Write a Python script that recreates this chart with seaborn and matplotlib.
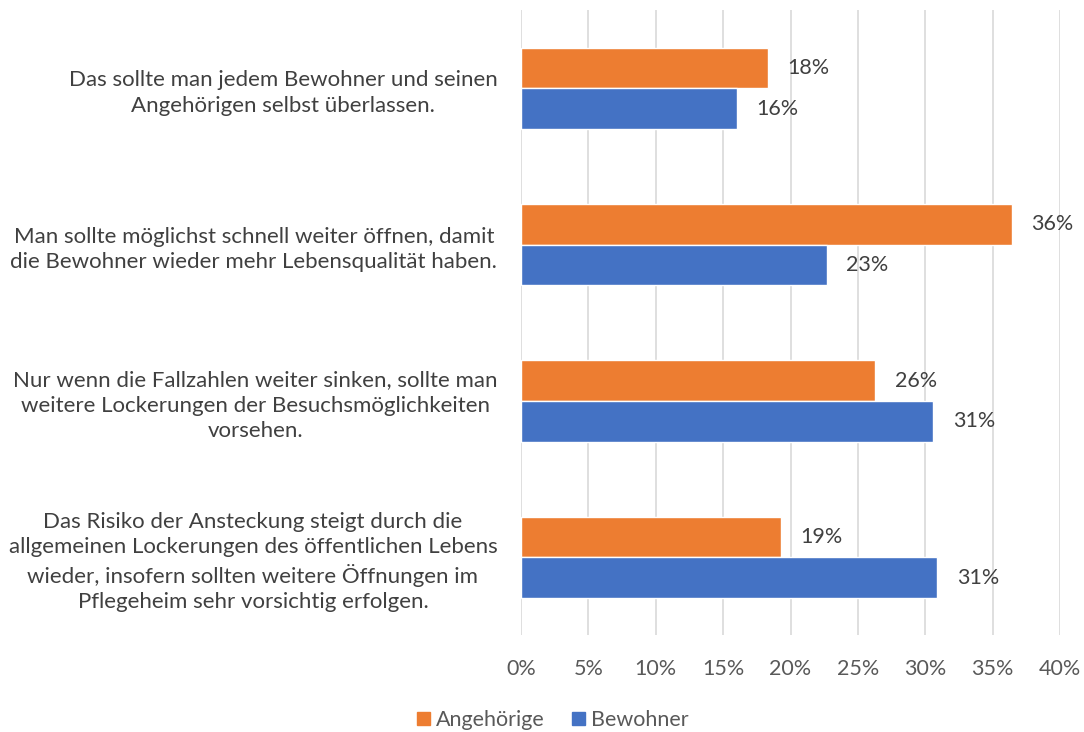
import pandas as pd
import matplotlib.pyplot as plt
import seaborn as sns
from matplotlib.ticker import FuncFormatter

# statements (y categories), top to bottom
statements = [
    "Das sollte man jedem Bewohner und seinen\nAngehörigen selbst überlassen.",
    "Man sollte möglichst schnell weiter öffnen, damit\ndie Bewohner wieder mehr Lebensqualität haben.",
    "Nur wenn die Fallzahlen weiter sinken, sollte man\nweitere Lockerungen der Besuchsmöglichkeiten\nvorsehen.",
    "Das Risiko der Ansteckung steigt durch die\nallgemeinen Lockerungen des öffentlichen Lebens\nwieder, insofern sollten weitere Öffnungen im\nPflegeheim sehr vorsichtig erfolgen.",
]
angehoerige = [18.3, 36.4, 26.3, 19.3]
bewohner = [16.0, 22.7, 30.6, 30.9]
groups = ["Angehörige", "Bewohner"]
colors = ["#ED7D31", "#4472C4"]

df = pd.DataFrame({
    "statement": statements * 2,
    "group": [groups[0]] * 4 + [groups[1]] * 4,
    "value": angehoerige + bewohner,
})

sns.set_theme(style="white")
plt.rcParams["font.family"] = ["Lato", "DejaVu Sans"]
text_col = "#595959"
fs = 15.5

fig, ax = plt.subplots(figsize=(10.84, 7.32), dpi=100)
fig.subplots_adjust(left=0.4806, right=0.978, top=0.986, bottom=0.132)

sns.barplot(data=df, x="value", y="statement", hue="group", hue_order=groups,
            palette=colors, orient="h", width=0.52, saturation=1, ax=ax)

for cont in ax.containers:
    ax.bar_label(cont, labels=[f"{round(v.get_width()):.0f}%" for v in cont],
                 padding=14, fontsize=fs, color="#404040")

ax.set_xlim(0, 40)
ax.set_xticks(range(0, 41, 5))
ax.xaxis.set_major_formatter(FuncFormatter(lambda v, p: f"{v:.0f}%"))
ax.grid(axis="x", color="#D9D9D9", linewidth=1.2)
ax.set_axisbelow(True)
for s in ax.spines.values():
    s.set_visible(False)
ax.set_xlabel("")
ax.set_ylabel("")
ax.tick_params(axis="x", labelsize=fs, labelcolor=text_col, pad=17, length=0)
ax.tick_params(axis="y", labelsize=16, labelcolor="#404040", pad=17, length=0)
for lbl in ax.get_yticklabels():
    lbl.set_multialignment("center")
    lbl.set_linespacing(1.35)

ax.legend_.remove()
handles = [plt.Rectangle((0, 0), 1, 1, color=c) for c in colors]
fig.legend(handles, groups, loc="lower center", ncol=2, frameon=False,
           bbox_to_anchor=(0.51, -0.024), fontsize=fs, handlelength=0.6,
           handleheight=0.6, handletextpad=0.25, columnspacing=1.3,
           labelcolor=text_col)

fig.savefig("out.png", dpi=100)
